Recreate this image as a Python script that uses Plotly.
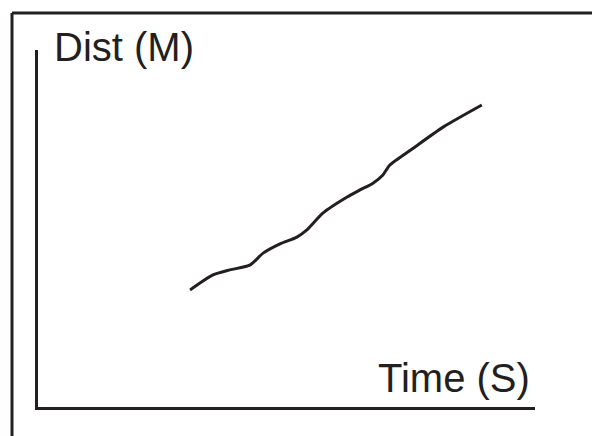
import plotly.graph_objects as go

# distance vs time (arbitrary 0-100 units)
time_s = [30.6, 35.2, 38.6, 42.7, 45.3, 48.7, 52.1, 54.1, 57.3, 62.2, 64.8, 67.4, 69.4, 70.8, 75.5, 81.5, 89.3]
dist_m = [32.8, 37.0, 38.4, 39.8, 43.1, 45.7, 47.6, 49.6, 54.3, 58.8, 60.8, 62.7, 65.0, 67.8, 72.5, 78.4, 84.6]

INK = "#231f20"
W, H = 600, 436
L, R, T, B = 30, 73, 42, 37
OFF = 8  # page body margin

fig = go.Figure()
fig.add_trace(go.Scatter(x=time_s, y=dist_m, mode="lines",
                         line=dict(color=INK, width=3, shape="spline", smoothing=0.6),
                         hoverinfo="skip"))

# screen pixel -> paper coords
def px(x):
    return (x - OFF - L) / (W - L - R)

def py(y):
    return (H - B - (y - OFF)) / (H - T - B)

# outer frame, open at right and bottom
fig.add_shape(type="line", xref="paper", yref="paper", x0=px(12), y0=py(13), x1=px(610), y1=py(13),
              line=dict(color=INK, width=3))
fig.add_shape(type="line", xref="paper", yref="paper", x0=px(12), y0=py(13), x1=px(12), y1=py(450),
              line=dict(color=INK, width=3))

font = dict(family="Liberation Sans, Arial", size=40, color=INK)
fig.add_annotation(text="Dist (M)", xref="paper", yref="paper", x=px(52), y=py(71),
                   xanchor="left", yanchor="bottom", showarrow=False, font=font)
fig.add_annotation(text="Time (S)", xref="paper", yref="paper", x=px(532), y=py(402),
                   xanchor="right", yanchor="bottom", showarrow=False, font=font)

fig.update_xaxes(range=[0, 100], showgrid=False, zeroline=False, showticklabels=False, ticks="",
                 showline=True, linecolor=INK, linewidth=3)
fig.update_yaxes(range=[0, 100], showgrid=False, zeroline=False, showticklabels=False, ticks="",
                 showline=True, linecolor=INK, linewidth=3)
fig.update_layout(width=W, height=H, margin=dict(l=L, r=R, t=T, b=B),
                  paper_bgcolor="white", plot_bgcolor="white", showlegend=False)

fig.write_html("out.html")
